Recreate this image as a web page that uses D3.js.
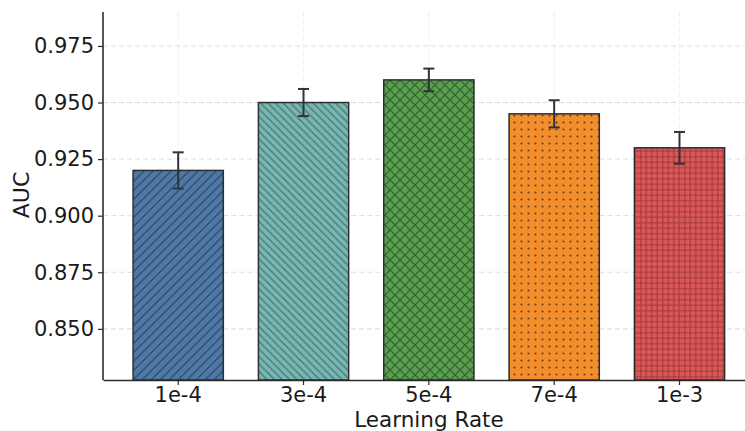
<!DOCTYPE html>
<html>
<head>
<meta charset="utf-8">
<script src="https://cdn.jsdelivr.net/npm/d3@7"></script>
<style>
  html, body { margin: 0; padding: 0; background: #fff; }
  svg { display: block; font-family: "DejaVu Sans", sans-serif; }
</style>
</head>
<body>
<svg id="chart" width="745" height="431"></svg>
<script>
// ---- data ----
const categories = ["1e-4", "3e-4", "5e-4", "7e-4", "1e-3"];
const aucValues  = [0.920, 0.950, 0.960, 0.945, 0.930];
const aucErrors  = [0.008, 0.006, 0.005, 0.006, 0.007];
const yTicks     = [0.850, 0.875, 0.900, 0.925, 0.950, 0.975];
const colors     = ["#4e79a7", "#76b7b2", "#59a14f", "#f28e2b", "#e15759"];
const hatches    = ["fwd", "back", "cross", "dots", "grid"];

(function () {
const W = 745, H = 431;
const mLeft = 103, mBottom = 380, mTop = 12, rightEnd = 754.7;

const svg = d3.select("#chart");
const defs = svg.append("defs");

// ---- hatch patterns ----
function makePattern(id, kind, fill) {
  const hc = d3.color(fill).darker(1.6).formatHex();
  let size;
  if (kind === "fwd") size = 9;
  else if (kind === "back") size = 7.5;
  else if (kind === "cross") size = 10;
  else if (kind === "dots") size = 7;
  else size = 5.5;
  const p = defs.append("pattern").attr("id", id)
    .attr("patternUnits", "userSpaceOnUse")
    .attr("width", size).attr("height", size);
  p.append("rect").attr("width", size).attr("height", size).attr("fill", fill);
  const s = size;
  if (kind === "fwd") {
    p.append("path").attr("d", `M0,${s} L${s},0 M${-s/2},${s/2} L${s/2},${-s/2} M${s/2},${s*1.5} L${s*1.5},${s/2}`)
      .attr("stroke", hc).attr("stroke-width", 1.3).attr("opacity", 0.85);
  } else if (kind === "back") {
    p.append("path").attr("d", `M0,0 L${s},${s} M${-s/2},${s/2} L${s/2},${s*1.5} M${s/2},${-s/2} L${s*1.5},${s/2}`)
      .attr("stroke", hc).attr("stroke-width", 1.3).attr("opacity", 0.85);
  } else if (kind === "cross") {
    p.append("path").attr("d", `M0,0 L${s},${s} M0,${s} L${s},0`)
      .attr("stroke", hc).attr("stroke-width", 1.3).attr("opacity", 0.85);
  } else if (kind === "dots") {
    p.append("circle").attr("cx", s/2).attr("cy", s/2).attr("r", 1.1)
      .attr("fill", "#5a3410").attr("opacity", 0.85);
  } else {
    p.append("path").attr("d", `M${s/2},0 L${s/2},${s} M0,${s/2} L${s},${s/2}`)
      .attr("stroke", hc).attr("stroke-width", 1).attr("opacity", 0.8);
  }
}
categories.forEach((c, i) => makePattern("hatch" + i, hatches[i], colors[i]));

// ---- scales ----
const x = d3.scaleBand().domain(categories).range([mLeft, rightEnd])
  .paddingInner(0).paddingOuter(0.1);
const y = d3.scaleLinear().domain([0.8274, 0.990]).range([mBottom, mTop]);
const barW = x.step() * 0.72;
const cx = c => x(c) + x.bandwidth() / 2;

// ---- grid ----
const grid = svg.append("g");
grid.selectAll("line.h").data(yTicks).join("line")
  .attr("x1", mLeft).attr("x2", W)
  .attr("y1", d => y(d)).attr("y2", d => y(d))
  .attr("stroke", "#d9d9d9").attr("stroke-width", 0.9)
  .attr("stroke-dasharray", "5,3");
grid.selectAll("line.v").data(categories).join("line")
  .attr("x1", d => cx(d)).attr("x2", d => cx(d))
  .attr("y1", mTop).attr("y2", mBottom)
  .attr("stroke", "#ececec").attr("stroke-width", 0.9)
  .attr("stroke-dasharray", "5,3");

// ---- bars ----
const data = categories.map((c, i) => ({ c, v: aucValues[i], e: aucErrors[i], i }));
svg.append("g").selectAll("rect").data(data).join("rect")
  .attr("x", d => cx(d.c) - barW / 2)
  .attr("width", barW)
  .attr("y", d => y(d.v))
  .attr("height", d => mBottom - y(d.v))
  .attr("fill", d => `url(#hatch${d.i})`)
  .attr("stroke", "#2b2f33").attr("stroke-width", 1.5);

// ---- error bars ----
const eg = svg.append("g").attr("stroke", "#2f3338").attr("stroke-width", 2);
data.forEach(d => {
  const xc = cx(d.c);
  eg.append("line").attr("x1", xc).attr("x2", xc)
    .attr("y1", y(d.v + d.e)).attr("y2", y(d.v - d.e));
  eg.append("line").attr("x1", xc - 5.5).attr("x2", xc + 5.5)
    .attr("y1", y(d.v + d.e)).attr("y2", y(d.v + d.e));
  eg.append("line").attr("x1", xc - 5.5).attr("x2", xc + 5.5)
    .attr("y1", y(d.v - d.e)).attr("y2", y(d.v - d.e));
});

// ---- axes ----
const yAxis = svg.append("g").attr("transform", `translate(${mLeft},0)`)
  .call(d3.axisLeft(y).tickValues(yTicks).tickFormat(d3.format(".3f")).tickSize(5).tickPadding(4).tickSizeOuter(0));
const xAxis = svg.append("g").attr("transform", `translate(0,${mBottom})`)
  .call(d3.axisBottom(x).tickSize(5).tickPadding(2).tickSizeOuter(0));
[yAxis, xAxis].forEach(a => {
  a.select(".domain").attr("stroke", "#2b2b2b").attr("stroke-width", 1.6);
  a.selectAll(".tick line").attr("stroke", "#2b2b2b").attr("stroke-width", 1.2);
  a.selectAll(".tick text").attr("fill", "#1a1a1a")
    .style("font-size", "21px").style("font-family", "'DejaVu Sans', sans-serif");
});
yAxis.select(".domain").attr("d", `M0,${mTop}V${mBottom}`);

// ---- labels ----
svg.append("text").text("AUC")
  .attr("transform", `translate(29,195) rotate(-90)`)
  .attr("text-anchor", "middle")
  .style("font-size", "22px").attr("fill", "#1a1a1a");
svg.append("text").text("Learning Rate")
  .attr("x", 429).attr("y", 427)
  .attr("text-anchor", "middle")
  .style("font-size", "21.5px").attr("fill", "#1a1a1a");
})();
</script>
</body>
</html>
